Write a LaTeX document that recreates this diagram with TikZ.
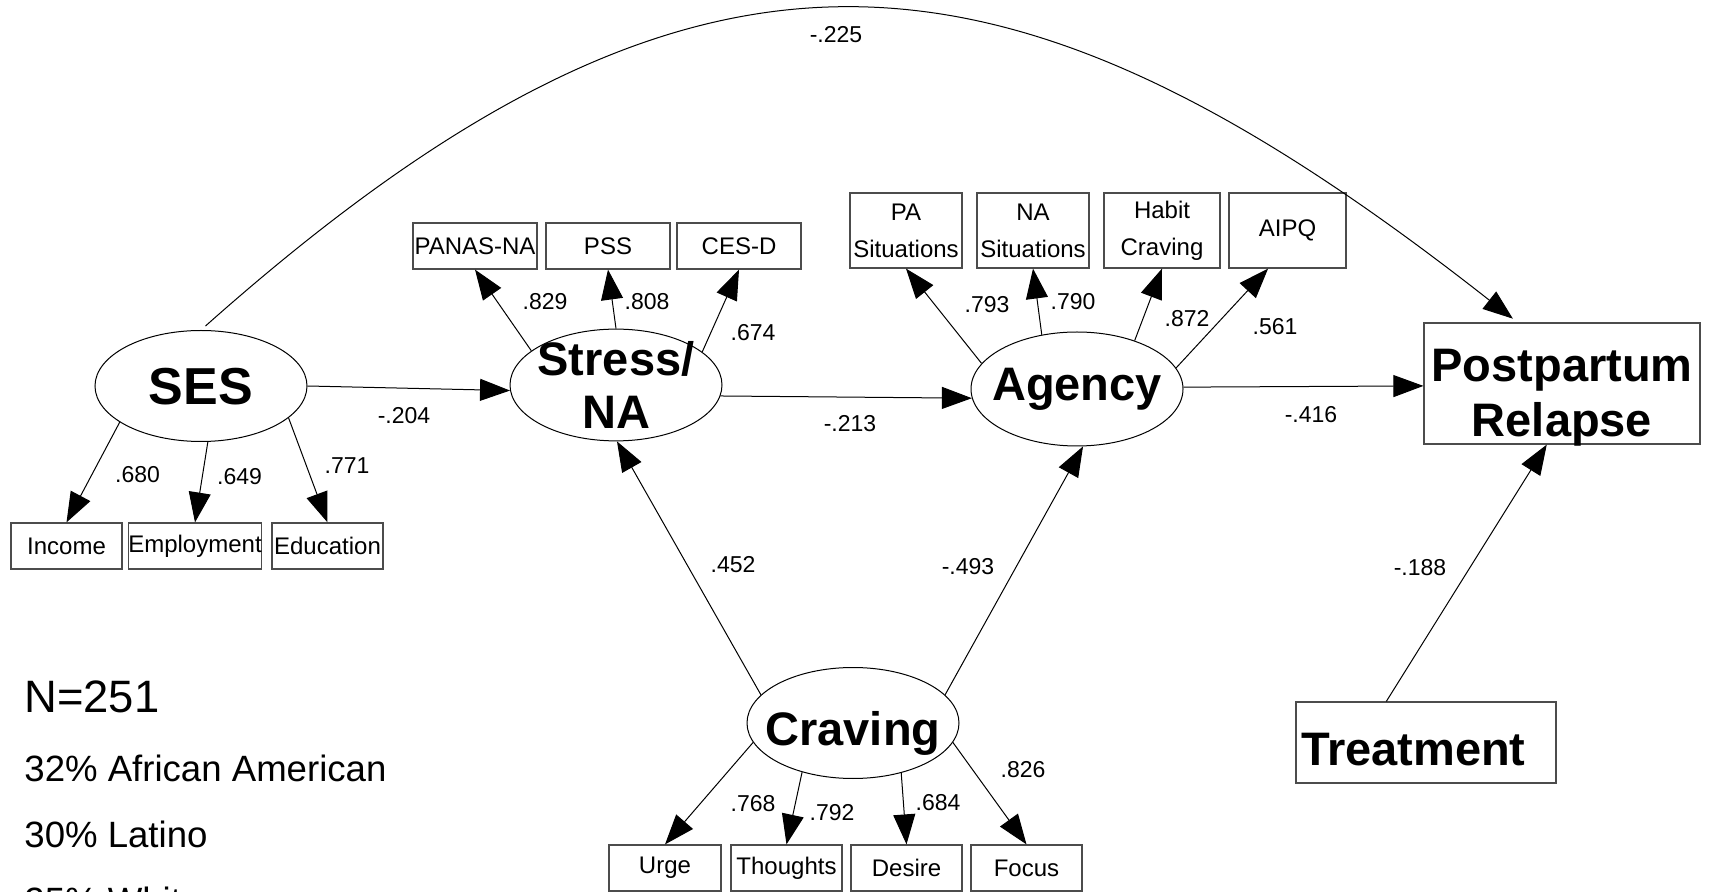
\documentclass[tikz,border=0pt]{standalone}
\usepackage{fontspec}
\setmainfont{Liberation Sans}
\usetikzlibrary{arrows.meta,shapes.geometric}

\tikzset{
  latent/.style={ellipse, draw, line width=0.5pt, minimum width=106pt, minimum height=55.5pt,
    inner xsep=-7pt, inner ysep=-2pt, align=center, font=\fontsize{23.5}{26.5}\selectfont\bfseries},
  ind/.style={rectangle, draw=black!70, line width=0.6pt, minimum height=23pt, inner sep=0pt,
    align=center, font=\fontsize{12}{18.5}\selectfont},
  outcome/.style={rectangle, draw=black!70, line width=0.6pt, inner sep=0pt},
  big/.style={align=center, inner sep=0pt, font=\fontsize{23.5}{27.5}\selectfont\bfseries},
  coef/.style={inner sep=0pt, font=\fontsize{11.5}{13}\selectfont},
  demo/.style={anchor=base west, inner sep=0pt, font=\fontsize{18.3}{22}\selectfont},
  link/.style={line width=0.5pt, -{Triangle[length=15pt,width=11pt]}},
}

\begin{document}
\begin{tikzpicture}[x=0.5pt, y=-0.5pt]
    \useasboundingbox (0,0) rectangle (1713,892);

    % Latent variables
    \node[latent, font=\fontsize{26}{28}\selectfont\bfseries, text depth=0pt] (ses) at (201,386) {SES};
    \node[latent] (stress) at (616,385) {Stress/\\NA};
    \node[latent, minimum height=57pt] (agency) at (1077,389) {Agency};
    \node[latent, text height=22pt, text depth=0pt] (craving) at (853,723) {Craving};

    % Outcome and treatment
    \node[outcome, minimum width=138pt, minimum height=60.5pt,
          label={[big, yshift=-7pt]center:Postpartum\\Relapse}] (relapse) at (1562,383.5) {};
    \node[outcome, big, minimum height=40.5pt, text width=125pt, inner xsep=2.5pt, align=left,
          text height=22.5pt, text depth=0pt] (treat) at (1426,742.5) {Treatment};

    % Indicators
    \foreach \nm/\x/\w/\txt in {income/66.5/55.5/Income, employ/195/66/Employment, educ/327.5/55.5/Education}
        \node[ind, minimum width=\w pt] (\nm) at (\x,546) {\txt};
    \foreach \nm/\x/\w/\txt in {panas/475/62/PANAS-NA, pss/608/62/PSS, cesd/739/62/CES-D}
        \node[ind, minimum width=\w pt] (\nm) at (\x,246) {\txt};
    \foreach \nm/\x/\w/\txt in {pasit/906/56/{PA\\Situations}, nasit/1033/56/{NA\\Situations},
                               habit/1162/58/{Habit\\Craving}, aipq/1287.5/58.5/AIPQ}
        \node[ind, minimum width=\w pt, minimum height=37.5pt] (\nm) at (\x,230.5) {\txt};
    \foreach \nm/\x/\w/\txt in {urge/665/56/Urge, thoughts/786.5/55.5/Thoughts,
                               desire/906.5/55.5/Desire, focus/1026.5/55.5/Focus}
        \node[ind, minimum width=\w pt] (\nm) at (\x,868) {\txt};

    % Loadings
    \foreach \a/\nm in {204/income, -83/employ, -20/educ}
        \draw[link] (ses.\a) -- (\nm.north);
    \foreach \a/\nm in {158/panas, 90/pss, 21/cesd}
        \draw[link] (stress.\a) -- (\nm.south);
    \foreach \a/\nm/\b in {165/pasit/south, 123/nasit/south, 40/habit/south, 12/aipq/-117}
        \draw[link] (agency.\a) -- (\nm.\b);
    \foreach \a/\nm in {191/urge, 224/thoughts, -46/desire, -11/focus}
        \draw[link] (craving.\a) -- (\nm.north);

    % Structural paths
    \draw[link] (ses.east) -- (stress.183);
    \draw[link] (stress.-6) -- (agency.185);
    \draw[link] (agency.1) -- (relapse.181);
    \draw[link] (craving.163) -- (stress.-89);
    \draw[link] (craving.17) -- (agency.-84);
    \draw[link] (treat.134) -- (relapse.-104);
    \draw[link, shorten <=3pt, shorten >=3pt] (ses.north) .. controls (696,-110) and (1004,-81) .. (relapse.126.6);

    % Coefficients
    \foreach \nm/\x/\y/\v in {c680/137.5/475/.680, c649/239.5/477/.649, c771/347/466/.771,
                             c829/545/302/.829, c808/647/302/.808, c674/753/333/.674,
                             c793/987/305/.793, c790/1073/302/.790, c872/1187/319/.872, c561/1275/327/.561,
                             c768/753/804/.768, c792/832/813/.792, c684/938/803/.684, c826/1023/770/.826,
                             c204/404/416/-.204, c213/850/424/-.213, c416/1311/415/-.416,
                             c452/733/565/.452, c493/968/567/-.493, c188/1420/568/-.188, c225/836/35/-.225}
        \node[coef] (\nm) at (\x,\y) {\v};

    % Sample
    \node[demo, font=\fontsize{22.7}{26}\selectfont] (nsize) at (24,712) {N=251};
    \node[demo] (afam) at (24,781) {32\% African American};
    \node[demo] (latino) at (24,847) {30\% Latino};
    \node[demo] (white) at (24,913) {25\% White};
\end{tikzpicture}
\end{document}
